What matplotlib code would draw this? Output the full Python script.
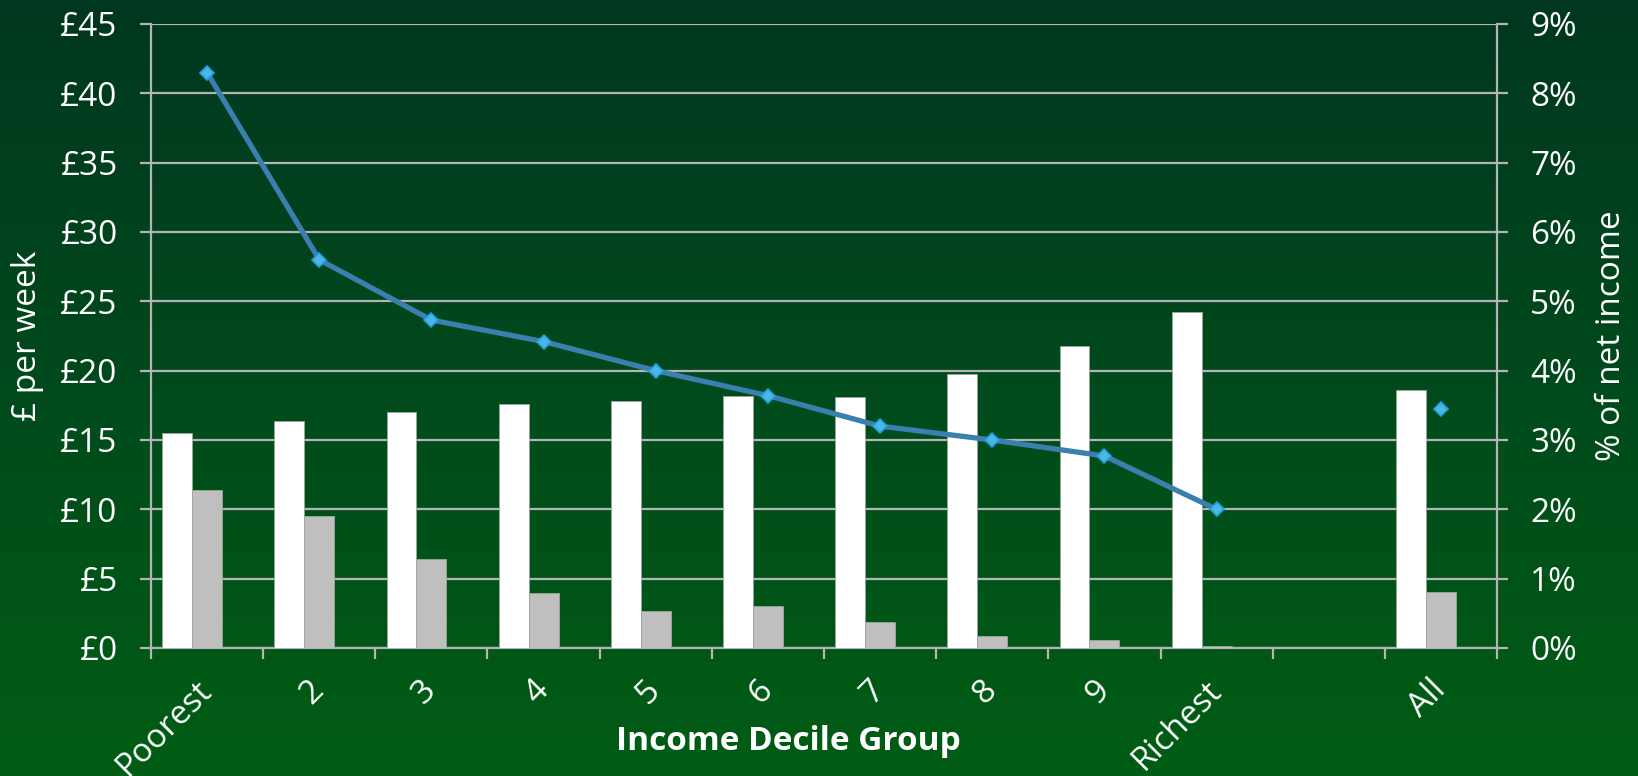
import numpy as np
import matplotlib
matplotlib.use("Agg")
import matplotlib.pyplot as plt
from matplotlib.colors import LinearSegmentedColormap
from matplotlib.ticker import FuncFormatter, FixedLocator

plt.rcParams['font.family'] = ['Open Sans', 'DejaVu Sans']

# ---- data ----
categories = ['Poorest', '2', '3', '4', '5', '6', '7', '8', '9', 'Richest', '', 'All']
white_bars = [15.5, 16.4, 17.0, 17.6, 17.8, 18.15, 18.1, 19.75, 21.75, 24.2, np.nan, 18.6]
grey_bars = [11.4, 9.5, 6.4, 3.95, 2.7, 3.0, 1.9, 0.87, 0.58, 0.12, np.nan, 4.05]
pct_income = [8.3, 5.6, 4.73, 4.42, 4.0, 3.64, 3.2, 3.0, 2.77, 2.0, np.nan, 3.45]
left_ticks = [0, 5, 10, 15, 20, 25, 30, 35, 40, 45]
right_ticks = [0, 1, 2, 3, 4, 5, 6, 7, 8, 9]

W, H, DPI = 1638, 776, 100
fig = plt.figure(figsize=(W / DPI, H / DPI), dpi=DPI)

# background gradient
bg = fig.add_axes([0, 0, 1, 1], zorder=-10)
cmap = LinearSegmentedColormap.from_list('g', ['#00371f', '#004a1c', '#005d14'])
grad = np.linspace(0, 1, 256).reshape(-1, 1)
bg.imshow(grad, aspect='auto', cmap=cmap, extent=[0, 1, 0, 1], origin='upper')
bg.axis('off')

left, right, top, bottom = 151, 1497, 24, 648
ax = fig.add_axes([left / W, 1 - bottom / H, (right - left) / W, (bottom - top) / H])
ax.patch.set_alpha(0)

x = np.arange(len(categories))
bw = 0.2667
grid_col = '#b4b4b4'
ax.bar(x - bw, white_bars, width=bw, color='white', edgecolor='#9aa89a', linewidth=0.6, zorder=3)
ax.bar(x, grey_bars, width=bw, color='#bfbfbf', edgecolor='#9aa89a', linewidth=0.6, zorder=3)

ax.set_xlim(-0.5, len(categories) - 0.5)
ax.set_ylim(0, 45)
ax.set_yticks(left_ticks)
ax.yaxis.set_major_formatter(FuncFormatter(lambda v, p: f'£{int(v)}'))
ax.grid(axis='y', color=grid_col, linewidth=1.6, zorder=0)
ax.set_axisbelow(True)

ax.xaxis.set_major_locator(FixedLocator(np.arange(-0.5, len(categories), 1.0)))
ax.set_xticklabels([])
ax.set_xticks(x, minor=True)
ax.set_xticklabels(categories, minor=True, rotation=45, ha='right', va='center',
                   rotation_mode='anchor', color='white', fontsize=24)
ax.tick_params(axis='x', which='major', length=8, width=1.6, color=grid_col, direction='out')
ax.tick_params(axis='x', which='minor', length=0, pad=27)
ax.tick_params(axis='y', length=8, width=1.6, color=grid_col, labelcolor='white',
               labelsize=24, pad=16)

for s in ['top', 'right']:
    ax.spines[s].set_visible(False)
for s in ['left', 'bottom']:
    ax.spines[s].set_color(grid_col)
    ax.spines[s].set_linewidth(1.6)

ax2 = ax.twinx()
ax2.patch.set_alpha(0)
ax2.plot(x, pct_income, color='#3a7fae', linewidth=3.8, marker='D', markersize=7.5,
         markerfacecolor='#52b4e6', markeredgecolor='#18a4e4', markeredgewidth=1.2, zorder=5)
ax2.set_ylim(0, 9)
ax2.set_yticks(right_ticks)
ax2.yaxis.set_major_formatter(FuncFormatter(lambda v, p: f'{int(v)}%'))
ax2.tick_params(axis='y', length=8, width=1.6, color=grid_col, labelcolor='white',
                labelsize=24, pad=16)
for s in ['top', 'left', 'bottom']:
    ax2.spines[s].set_visible(False)
ax2.spines['right'].set_color(grid_col)
ax2.spines['right'].set_linewidth(1.6)

fig.text(28 / W, 1 - 336 / H, '£ per week', rotation=90, ha='center', va='center',
         color='white', fontsize=24)
fig.text(1612 / W, 1 - 336 / H, '% of net income', rotation=90, ha='center', va='center',
         color='white', fontsize=24)
fig.text(788 / W, 1 - 741 / H, 'Income Decile Group', ha='center', va='center',
         color='white', fontsize=24, fontweight='bold')

fig.savefig('out.png', dpi=DPI)
